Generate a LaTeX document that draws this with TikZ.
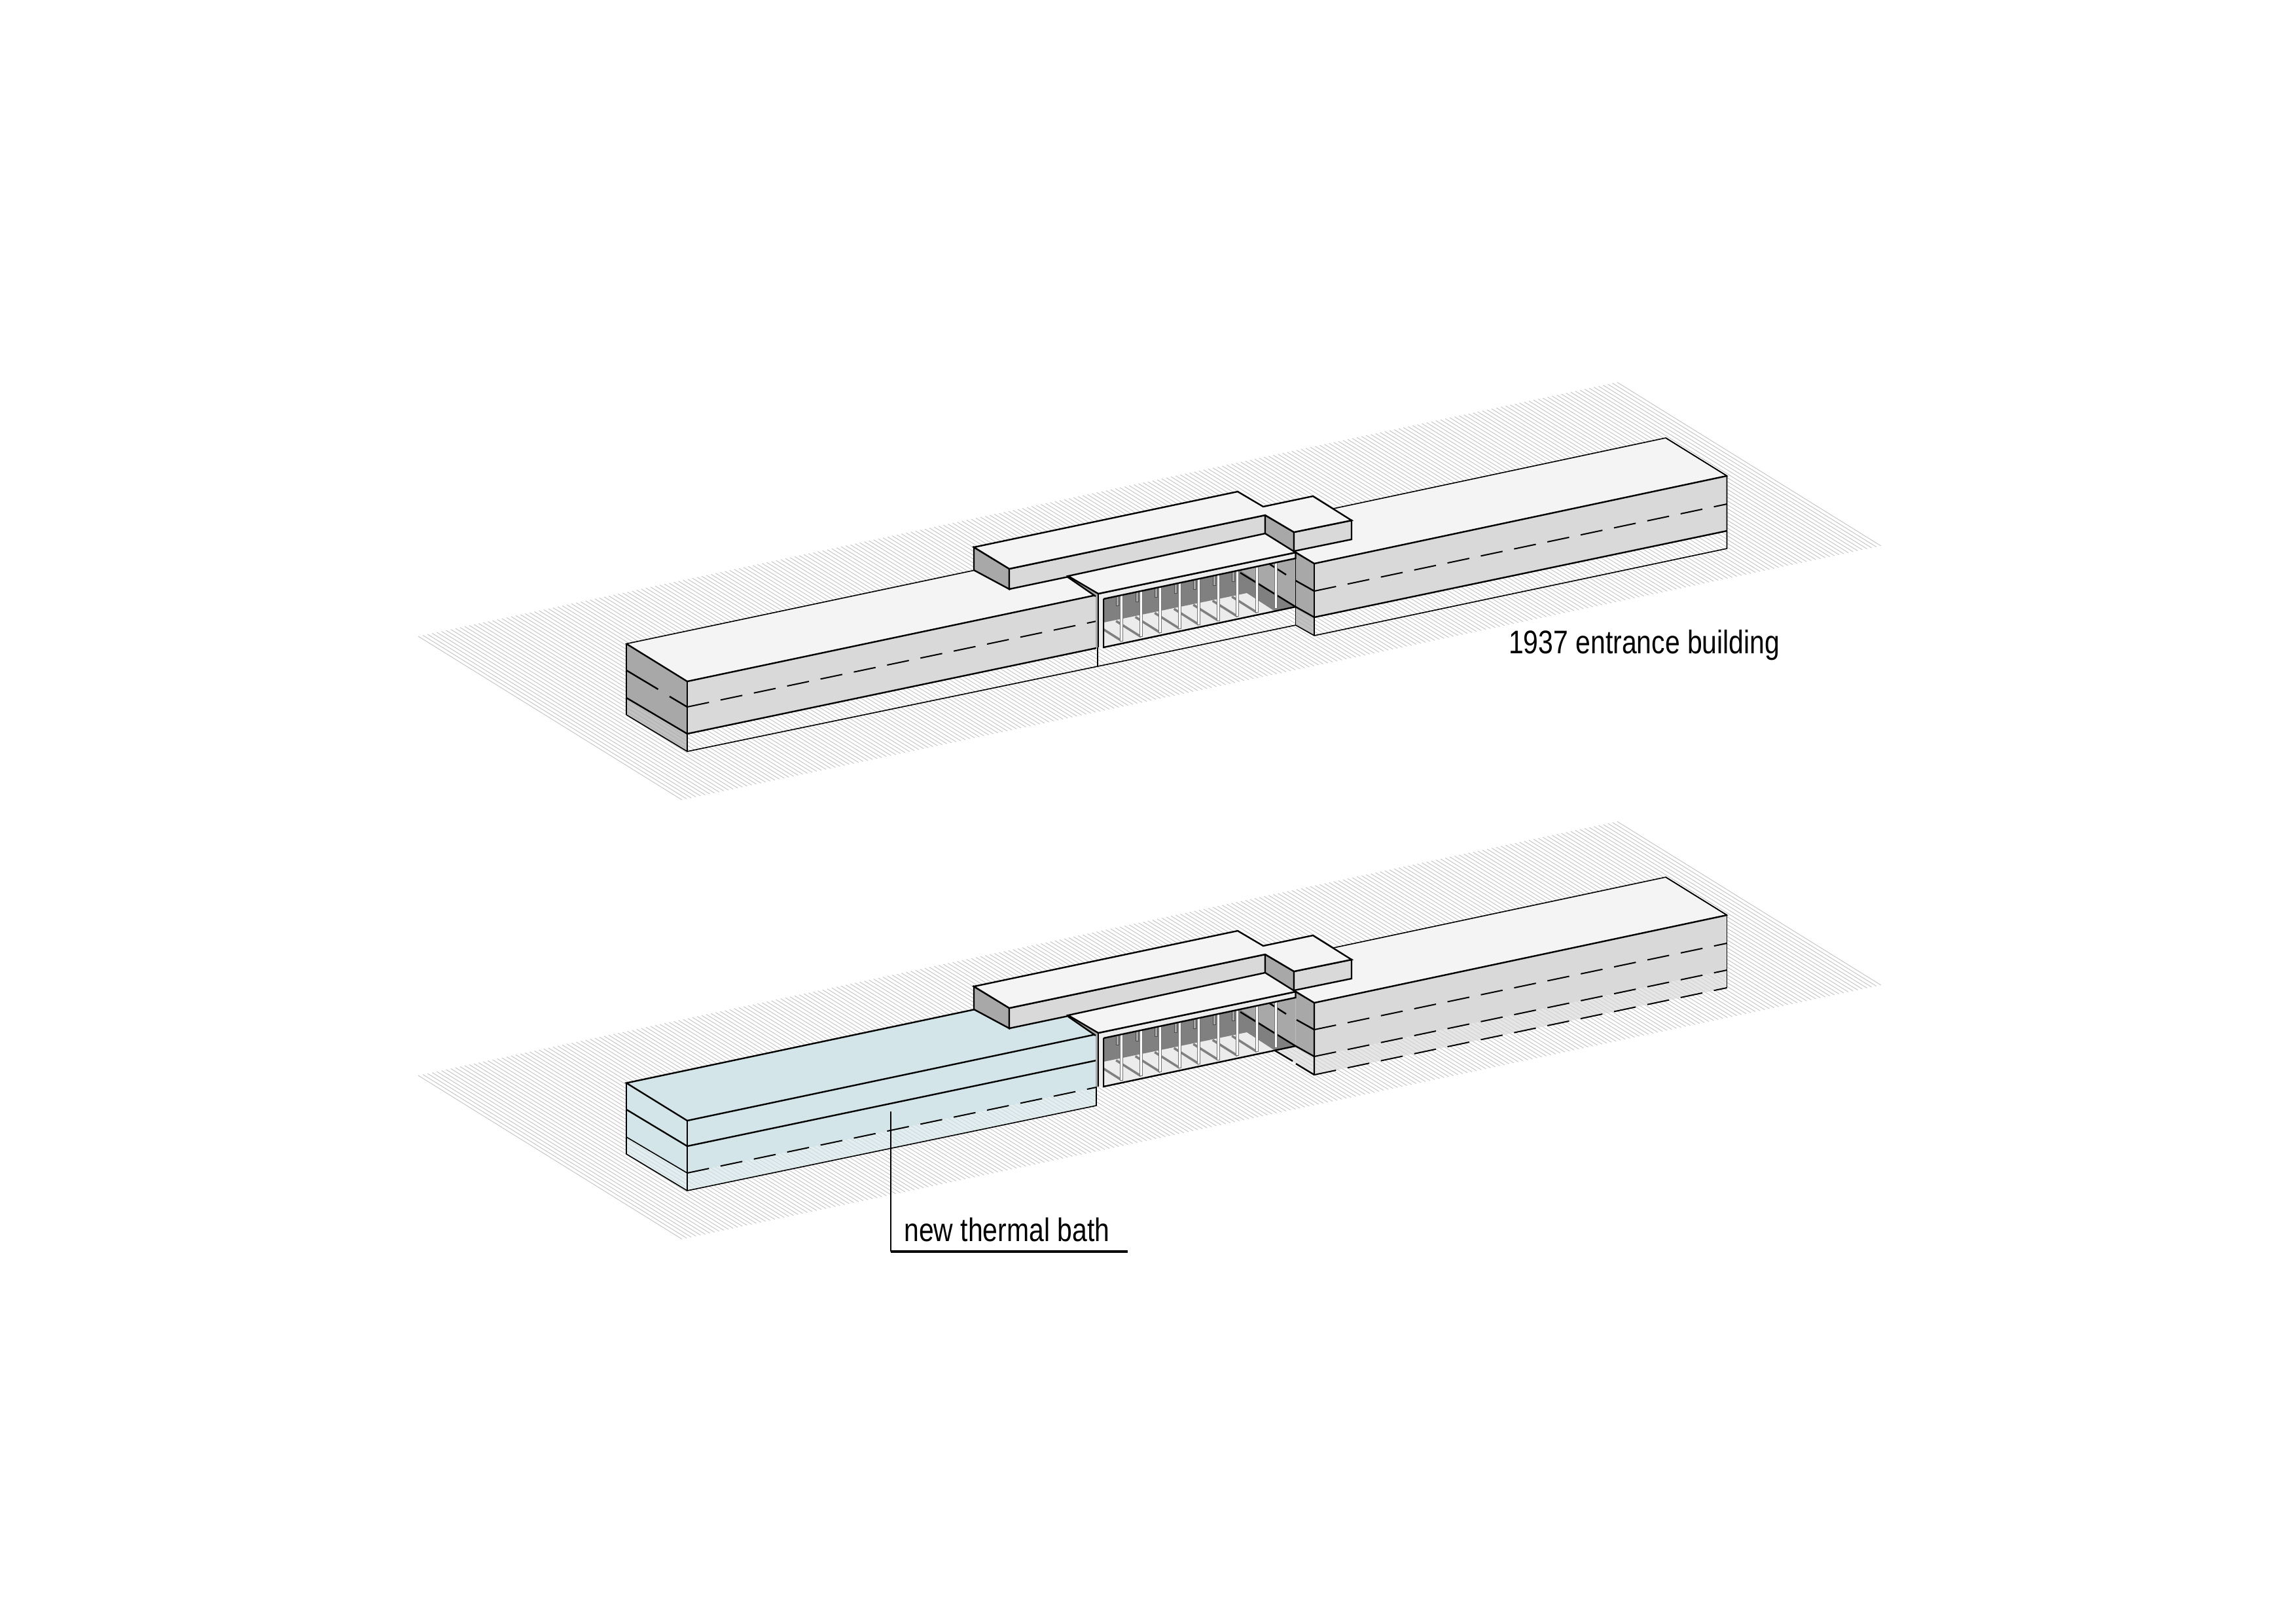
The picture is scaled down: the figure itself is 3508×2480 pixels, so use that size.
\documentclass[tikz,border=0pt]{standalone}
\usepackage{fontspec}
\setmainfont[FakeStretch=0.82]{Liberation Sans}
\usetikzlibrary{positioning}
\definecolor{roofgrey}{HTML}{F4F4F4}
\definecolor{frontgrey}{HTML}{D9D9D9}
\definecolor{sidegrey}{HTML}{A8A8A8}
\definecolor{wallgrey}{HTML}{808080}
\definecolor{floorgrey}{HTML}{ECECEC}
\definecolor{bathblue}{HTML}{D3E5E9}
\tikzstyle{hatchline} = [draw=black!22,line width=0.1mm]
\tikzstyle{edge} = [draw=black,line width=0.24mm,line join=miter]
\tikzstyle{fineedge} = [draw=black,line width=0.16mm]
\tikzstyle{dashedge} = [draw=black,line width=0.2mm,dash pattern=on 3.4mm off 1.8mm]
\tikzstyle{columnbar} = [draw=black!55,line width=0.1mm,fill=white]
\tikzstyle{stubbar} = [draw=black!70,line width=0.1mm,fill=sidegrey]
\tikzstyle{caption} = [anchor=base west,inner sep=0pt,font=\fontsize{14.2}{17}\selectfont]

% ground field, one per drawing
\newcommand{\hatchfield}{
\foreach \i in {0,...,258}
  \draw [hatchline] ({639+7.1*\i},{972-1.504*\i}) -- ++(403,250);
}
% open bay below the canopy
\newcommand{\entrancebay}{
\fill [floorgrey] (1686,915) -- (1979.5,853) -- (1979.5,927) -- (1686,989) -- cycle;
\fill [wallgrey] (1686,915) -- (1895,871) -- (1979.5,927) -- (1948,934) -- (1905,906) -- (1686,951) -- cycle;
\fill [sidegrey] (1895,871) -- (1979.5,853) -- (1979.5,927) -- cycle;
\begin{scope}
\clip (1686,915) -- (1979.5,853) -- (1979.5,927) -- (1686,989) -- cycle;
\foreach \i [evaluate=\i as \cx using 1713.7+29.5*\i, evaluate=\i as \by using 979-6.2*\i] in {0,...,7}
  \draw [wallgrey,line width=0.35mm] (\cx,\by) -- ++(-38,-24);
\end{scope}
\draw [edge] (1895,875) -- (1979.5,927);
\draw [edge] (1940,862) -- (1965,878);
\foreach \i [evaluate=\i as \cx using 1707.7+29.5*\i, evaluate=\i as \ty using 915-0.211*(\cx-1686)] in {0,...,6}
  \draw [stubbar] (\cx-1.8,\ty) rectangle (\cx+1.8,\ty+15);
\foreach \i [evaluate=\i as \cx using 1713.7+29.5*\i, evaluate=\i as \ty using 915-0.211*(\cx-1686), evaluate=\i as \by using 979-6.2*\i] in {0,...,8}
  \draw [columnbar] (\cx-2.2,\ty) rectangle (\cx+2.2,\by);
\draw [edge] (1686,915) -- (1686,989) -- (1979.5,927);
}
% roof volume over the bay, with the canopy and its post
\newcommand{\roofvolume}{
\filldraw [edge,fill=sidegrey] (1488,836) -- (1542,869) -- (1542,900) -- (1488,871) -- cycle;
\filldraw [edge,fill=frontgrey] (1542,869) -- (1933,787) -- (1933,818) -- (1542,900) -- cycle;
\filldraw [edge,fill=sidegrey] (1933,787) -- (1977,813) -- (1977,844) -- (1933,818) -- cycle;
\filldraw [edge,fill=frontgrey] (1977,813) -- (2065,795) -- (2065,824) -- (1977,842) -- cycle;
\filldraw [edge,fill=roofgrey] (1488,836) -- (1891,751) -- (1930,774) -- (2006,758) -- (2065,795) -- (1977,813) -- (1933,787) -- (1542,869) -- cycle;
\fill [sidegrey] (1632,880) -- (1678,907) -- (1678,989) -- (1674,989) -- (1674,911) -- cycle;
\fill [floorgrey] (1678,907) -- (1686,907) -- (1686,989) -- (1678,989) -- cycle;
\filldraw [edge,fill=floorgrey] (1678,907) -- (1979.5,844) -- (1979.5,853) -- (1686,915);
\filldraw [edge,fill=roofgrey] (1632,880) -- (1933,815) -- (1979.5,844) -- (1678,907) -- cycle;
\draw [edge] (1674,911) -- (1632,882);
\draw [edge] (1678,907) -- (1678,989);
\draw [edge] (1686,915) -- (1686,989);
}

\begin{document}
\begin{tikzpicture}[x=0.1mm,y=-0.1mm]
\useasboundingbox (0,0) rectangle (3508,2480);
\fill [white] (0,0) rectangle (3508,2480);

% 1937 state
\hatchfield
\filldraw [fineedge,fill=roofgrey] (957,983.5) -- (1050,1041) -- (1675,909) -- (1582,851.5) -- cycle;
\fill [frontgrey] (1050,1041) -- (1675,909) -- (1675,990) -- (1050,1121) -- cycle;
\fill [sidegrey] (957,983.5) -- (1050,1041) -- (1050,1121) -- (957,1066) -- cycle;
\fill [sidegrey,fill opacity=0.7] (957,1066) -- (1050,1121) -- (1050,1148) -- (957,1092) -- cycle;
\draw [edge] (957,983.5) -- (1050,1041) -- (1675,909);
\draw [edge] (1050,1121) -- (1675,990);
\draw [fineedge] (957,1092) -- (1050,1148) -- (1677,1018);
\draw [fineedge] (957,983.5) -- (957,1092);
\draw [edge] (1050,1041) -- (1050,1121);
\draw [fineedge] (1050,1121) -- (1050,1148);
\draw [edge] (957,1066) -- (1050,1121);
\draw [edge] (957,1024) -- (1005.5,1053);
\draw [edge] (1023,1064) -- (1050,1080);
\draw [dashedge] (1050,1080) -- (1675,949);
\draw [fineedge] (1677,989) -- (1677,1018) -- (1979.5,955);

\filldraw [fineedge,fill=roofgrey] (1915,803) -- (2545,669) -- (2638.5,727) -- (2008,861) -- cycle;
\fill [frontgrey] (2008,861) -- (2638.5,727) -- (2638.5,811) -- (2008,943) -- cycle;
\fill [sidegrey] (1979.5,844) -- (2008,861) -- (2008,943) -- (1979.5,927) -- cycle;
\fill [sidegrey,fill opacity=0.7] (1979.5,927) -- (2008,943) -- (2008,971) -- (1979.5,955) -- cycle;
\entrancebay
\draw [edge] (1979.5,844) -- (2008,861) -- (2638.5,727);
\draw [fineedge] (2638.5,727) -- (2545,669);
\draw [edge] (2008,943) -- (2638.5,811);
\draw [fineedge] (1979.5,955) -- (2008,971) -- (2638.5,838) -- (2638.5,727);
\draw [fineedge] (1979.5,844) -- (1979.5,955);
\draw [edge] (2008,861) -- (2008,943);
\draw [fineedge] (2008,943) -- (2008,971);
\draw [edge] (1979.5,887) -- (2008,903);
\draw [edge] (1979.5,927) -- (2008,943);
\draw [dashedge] (2008,903) -- (2638.5,770);
\roofvolume
\node (entrancelabel) [caption] at (2304.5,998) {1937 entrance building};

% present state
\begin{scope}[shift={(0,671)}]
\hatchfield
\fill [bathblue] (957,983.5) -- (1582,851.5) -- (1675,909) -- (1675,990) -- (1050,1121) -- (957,1066) -- cycle;
\fill [bathblue,fill opacity=0.65] (957,1066) -- (1050,1121) -- (1675,990) -- (1675,1018) -- (1050,1148) -- (957,1092) -- cycle;
\draw [edge] (1582,851.5) -- (957,983.5) -- (1050,1041) -- (1675,909);
\draw [edge] (957,1024) -- (1050,1080) -- (1675,949);
\draw [fineedge] (957,1066) -- (1050,1121);
\draw [dashedge] (1050,1121) -- (1675,990);
\draw [fineedge] (957,983.5) -- (957,1092) -- (1050,1148) -- (1675,1018) -- (1675,909);
\draw [fineedge] (1050,1041) -- (1050,1148);

\filldraw [fineedge,fill=roofgrey] (1915,803) -- (2545,669) -- (2638.5,727) -- (2008,861) -- cycle;
\fill [frontgrey] (2008,861) -- (2638.5,727) -- (2638.5,811) -- (2008,943) -- cycle;
\fill [frontgrey,fill opacity=0.65] (2008,943) -- (2638.5,811) -- (2638.5,838) -- (2008,971) -- cycle;
\fill [sidegrey] (1979.5,844) -- (2008,861) -- (2008,943) -- (1979.5,927) -- cycle;
\fill [frontgrey,fill opacity=0.65] (1948,934) -- (1979.5,927) -- (2008,943) -- (2008,971) -- cycle;
\entrancebay
\draw [edge] (2008,861) -- (2638.5,727);
\draw [fineedge] (2638.5,727) -- (2545,669);
\draw [edge] (1979.5,844) -- (2008,861) -- (2008,971);
\draw [fineedge] (2638.5,727) -- (2638.5,838);
\draw [edge] (1979.5,927) -- (2008,943);
\draw [edge] (1981,887) -- (2008,902);
\draw [dashedge] (2008,902) -- (2638.5,770);
\draw [dashedge] (2008,943) -- (2638.5,811);
\draw [dashedge] (2008,971) -- (2638.5,838);
\draw [edge] (1948,934) -- (1975,950);
\draw [edge] (1980,954) -- (2008,971);
\roofvolume
\end{scope}

\node (bathlabel) [caption] at (1380.6,1896) {new thermal bath};
\coordinate (bathtip) at (1361,1698);
\coordinate (bathbend) at (1361,1912);
\coordinate (bathend) at (1723,1912);
\draw [fineedge] (bathtip) -- (bathbend);
\draw [draw=black,line width=0.32mm] (bathbend) -- (bathend);

\end{tikzpicture}
\end{document}
